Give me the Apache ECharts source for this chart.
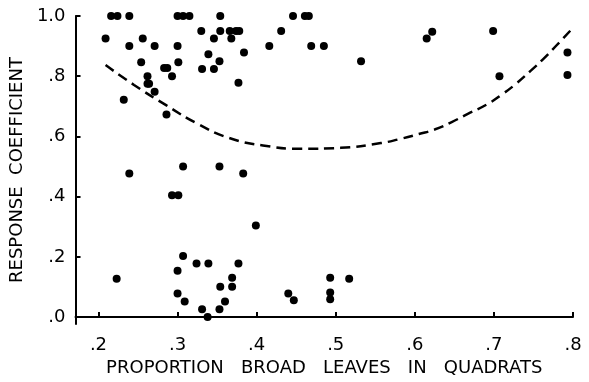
<!DOCTYPE html>
<html>
<head>
<meta charset="utf-8">
<script src="https://cdn.jsdelivr.net/npm/echarts@6/dist/echarts.min.js"></script>
<style>
  html, body {margin: 0; padding: 0; background: #fff;}
  #chart {width: 589px; height: 382px;}
</style>
</head>
<body>
<div id="chart"></div>
<script>
// proportion of broad leaves (x) vs response coefficient (y)
const broadProp = [
  0.216, 0.224, 0.239, 0.300, 0.307, 0.315, 0.354, 0.446, 0.461, 0.466,
  0.330, 0.354, 0.366, 0.374, 0.378, 0.431, 0.622, 0.699,
  0.209, 0.256, 0.346, 0.368, 0.615,
  0.239, 0.271, 0.300, 0.416, 0.469, 0.485,
  0.339, 0.384, 0.793,
  0.254, 0.301, 0.353, 0.532,
  0.283, 0.287, 0.331, 0.346,
  0.262, 0.293, 0.707, 0.793,
  0.262, 0.264, 0.377,
  0.271, 0.232, 0.286,
  0.307, 0.353, 0.239, 0.383,
  0.293, 0.301,
  0.399,
  0.307,
  0.324, 0.339, 0.377,
  0.300,
  0.369, 0.493, 0.517, 0.223,
  0.354, 0.369,
  0.300, 0.440, 0.493,
  0.309, 0.360, 0.447, 0.493,
  0.331, 0.353,
  0.338
]
const responseCoef = [
  1.0, 1.0, 1.0, 1.0, 1.0, 1.0, 1.0, 1.0, 1.0, 1.0,
  0.95, 0.95, 0.95, 0.95, 0.95, 0.95, 0.948, 0.95,
  0.925, 0.925, 0.925, 0.925, 0.925,
  0.90, 0.90, 0.90, 0.90, 0.90, 0.90,
  0.873, 0.879, 0.879,
  0.846, 0.846, 0.85, 0.85,
  0.827, 0.827, 0.824, 0.824,
  0.80, 0.80, 0.80, 0.804,
  0.775, 0.775, 0.778,
  0.748, 0.722, 0.673,
  0.50, 0.50, 0.477, 0.477,
  0.405, 0.405,
  0.304,
  0.203,
  0.178, 0.178, 0.178,
  0.154,
  0.131, 0.131, 0.127, 0.127,
  0.101, 0.101,
  0.078, 0.078, 0.082,
  0.052, 0.052, 0.056, 0.059,
  0.026, 0.026,
  0.0
]

// fitted curve (dashed)
const curveX = [0.209, 0.245, 0.286, 0.326, 0.365, 0.408, 0.456, 0.506, 0.557, 0.582, 0.605, 0.625, 0.646, 0.667, 0.691, 0.710, 0.728, 0.746, 0.762, 0.779, 0.799]
const curveY = [0.837, 0.771, 0.703, 0.641, 0.595, 0.570, 0.559, 0.562, 0.578, 0.592, 0.608, 0.623, 0.647, 0.675, 0.706, 0.739, 0.775, 0.817, 0.856, 0.902, 0.958]

const xTicks = [0.2, 0.3, 0.4, 0.5, 0.6, 0.7, 0.8]
const xTickLabels = ['.2', '.3', '.4', '.5', '.6', '.7', '.8']
const yTicks = [0, 0.2, 0.4, 0.6, 0.8, 1.0]
const yTickLabels = ['.0', '.2', '.4', '.6', '.8', '1.0']

const font = 'DejaVu Sans'

function tickLabel(ticks, labels) {
  return v => {
    const i = ticks.findIndex(t => Math.abs(t - v) < 1e-6)
    return i < 0 ? '' : labels[i]
  }
}

const chart = echarts.init(document.getElementById('chart'))

chart.setOption({
  animation: false,
  backgroundColor: '#fff',
  grid: {left: 74, right: 16, top: 16, bottom: 53},
  xAxis: {
    type: 'value',
    min: 0.171,
    max: 0.8,
    name: 'PROPORTION   BROAD   LEAVES   IN   QUADRATS',
    nameLocation: 'middle',
    nameGap: 35,
    nameTextStyle: {fontFamily: font, fontSize: 18, color: '#000'},
    axisLine: {lineStyle: {color: '#000', width: 2}},
    axisTick: {inside: true, length: 5, customValues: xTicks, lineStyle: {color: '#000', width: 2}},
    axisLabel: {
      customValues: xTicks,
      formatter: tickLabel(xTicks, xTickLabels),
      fontFamily: font, fontSize: 18, color: '#000', margin: 12
    },
    splitLine: {show: false}
  },
  yAxis: {
    type: 'value',
    min: -0.023,
    max: 1.0,
    name: 'RESPONSE  COEFFICIENT',
    nameLocation: 'middle',
    nameGap: 41,
    nameTextStyle: {fontFamily: font, fontSize: 18, color: '#000'},
    axisLine: {lineStyle: {color: '#000', width: 2}},
    axisTick: {inside: true, length: 5, customValues: yTicks, lineStyle: {color: '#000', width: 2}},
    axisLabel: {
      customValues: yTicks,
      formatter: tickLabel(yTicks, yTickLabels),
      fontFamily: font, fontSize: 18, color: '#000', margin: 10
    },
    splitLine: {show: false}
  },
  series: [
    {
      type: 'scatter',
      symbol: 'circle',
      symbolSize: 8,
      itemStyle: {color: '#000', opacity: 1},
      data: broadProp.map((x, i) => [x, responseCoef[i]])
    },
    {
      type: 'line',
      smooth: true,
      showSymbol: false,
      lineStyle: {color: '#000', width: 2.5, type: [10, 6]},
      data: curveX.map((x, i) => [x, curveY[i]])
    }
  ]
})
</script>
</body>
</html>
